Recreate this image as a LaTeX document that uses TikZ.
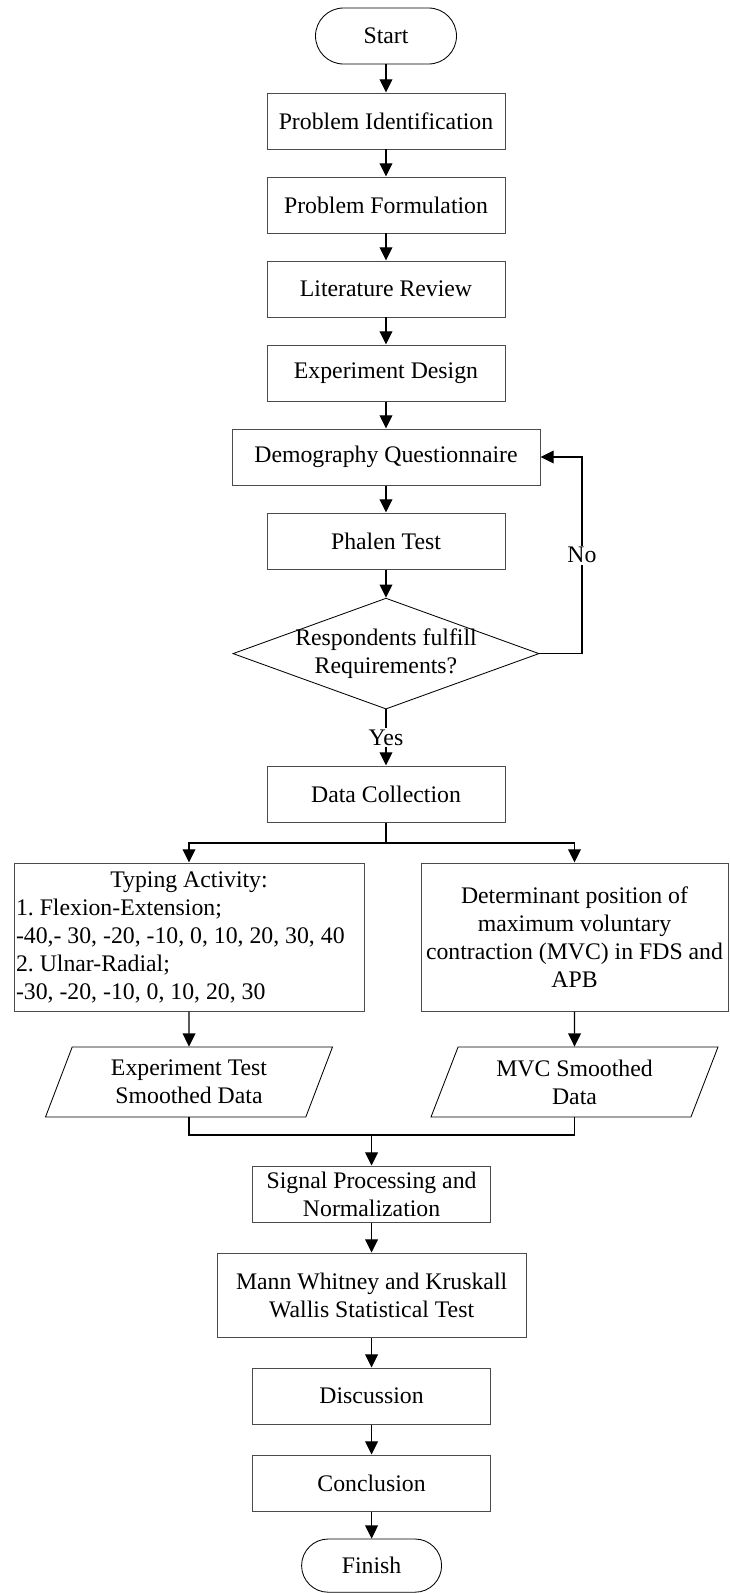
\documentclass[tikz,border=0pt]{standalone}
\usepackage{fontspec}
\setmainfont{Liberation Serif}
\frenchspacing
\usetikzlibrary{arrows.meta,shapes.geometric}
\tikzset{
  box/.style={draw=black!70,line width=0.7pt,minimum width=5.95cm,minimum height=1.4cm,inner sep=1pt,align=center},
  term/.style={draw,line width=0.6pt,rounded corners=0.7cm,minimum width=3.525cm,minimum height=1.4cm},
  decide/.style={draw,line width=0.6pt,diamond,aspect=2.76,inner sep=-1.2pt,align=center},
  io/.style={draw,line width=0.6pt,trapezium,trapezium left angle=63.4,trapezium right angle=116.6,
    trapezium stretches body,minimum width=7.175cm,minimum height=1.75cm,align=center},
  flow/.style={line width=0.9pt,-{Triangle[length=0.33cm,width=0.32cm]}},
  link/.style={line width=0.9pt}
}
\begin{document}
\begin{tikzpicture}[every node/.style={font=\fontsize{16.9}{19.9}\selectfont}]
  \useasboundingbox (0,0) rectangle (18.25,-39.825);

  \node[term] (start) at (9.65,-0.9) {Start};
  \node[box] (ident) at (9.65,-3.025) {Problem Identification};
  \node[box] (formul) at (9.65,-5.125) {Problem Formulation};
  \node[box] (review) at (9.65,-7.225) {Literature Review};
  \node[box] (design) at (9.65,-9.325) {Experiment Design};
  \node[box,minimum width=7.7cm] (quest) at (9.65,-11.425) {Demography Questionnaire};
  \node[box] (phalen) at (9.65,-13.525) {Phalen Test};
  \node[decide] (fulfil) at (9.65,-16.34) {Respondents fulfill\\Requirements?};
  \node[box] (collect) at (9.65,-19.85) {Data Collection};

  \node[box,minimum width=8.75cm,minimum height=3.7cm,text width=8.65cm,align=left] (typing) at (4.725,-23.425)
    {\spaceskip=0pt \xspaceskip=0pt
     {\centering Typing Activity:\par}
     1. Flexion-Extension;\\
     -40,- 30, -20, -10, 0, 10, 20, 30, 40\\
     2. Ulnar-Radial;\\
     -30, -20, -10, 0, 10, 20, 30};
  \node[box,minimum width=7.675cm,minimum height=3.7cm] (mvcpos) at (14.3625,-23.425)
    {Determinant position of\\maximum voluntary\\contraction (MVC) in FDS and\\APB};
  \node[io] (exptest) at (4.725,-27.05) {Experiment Test\\Smoothed Data};
  \node[io] (mvcdata) at (14.3625,-27.05) {MVC Smoothed\\Data};

  \node[box] (signal) at (9.29,-29.85) {Signal Processing and\\Normalization};
  \node[box,minimum width=7.725cm,minimum height=2.1cm] (stats) at (9.29,-32.375)
    {Mann Whitney and Kruskall\\Wallis Statistical Test};
  \node[box] (discuss) at (9.29,-34.9) {Discussion};
  \node[box] (conclude) at (9.29,-37.075) {Conclusion};
  \node[term,minimum width=3.5cm,minimum height=1.33cm,rounded corners=0.665cm] (finish) at (9.29,-39.14) {Finish};

  % main line
  \foreach \a/\b in {start/ident,ident/formul,formul/review,review/design,design/quest,quest/phalen,phalen/fulfil}
    \draw[flow] (\a) -- (\b);
  \draw[flow] (fulfil) -- node[fill=white,inner sep=1pt] {Yes} (collect);
  \coordinate (loop) at (14.55,-16.34);
  \draw[flow] (fulfil.east) -- (loop) |- node[pos=0.25,fill=white,inner sep=1pt] {No} (quest.east);

  % split and merge
  \coordinate (split) at (9.65,-21.075);
  \draw[link] (collect) -- (split);
  \draw[flow] (split) -| (typing);
  \draw[flow] (split) -| (mvcpos);
  \draw[flow] (typing) -- (exptest);
  \draw[flow] (mvcpos) -- (mvcdata);
  \coordinate (merge) at (9.29,-28.375);
  \draw[link] (exptest) |- (merge);
  \draw[link] (mvcdata) |- (merge);
  \draw[flow] (merge) -- (signal);

  \foreach \a/\b in {signal/stats,stats/discuss,discuss/conclude,conclude/finish}
    \draw[flow] (\a) -- (\b);
\end{tikzpicture}
\end{document}
